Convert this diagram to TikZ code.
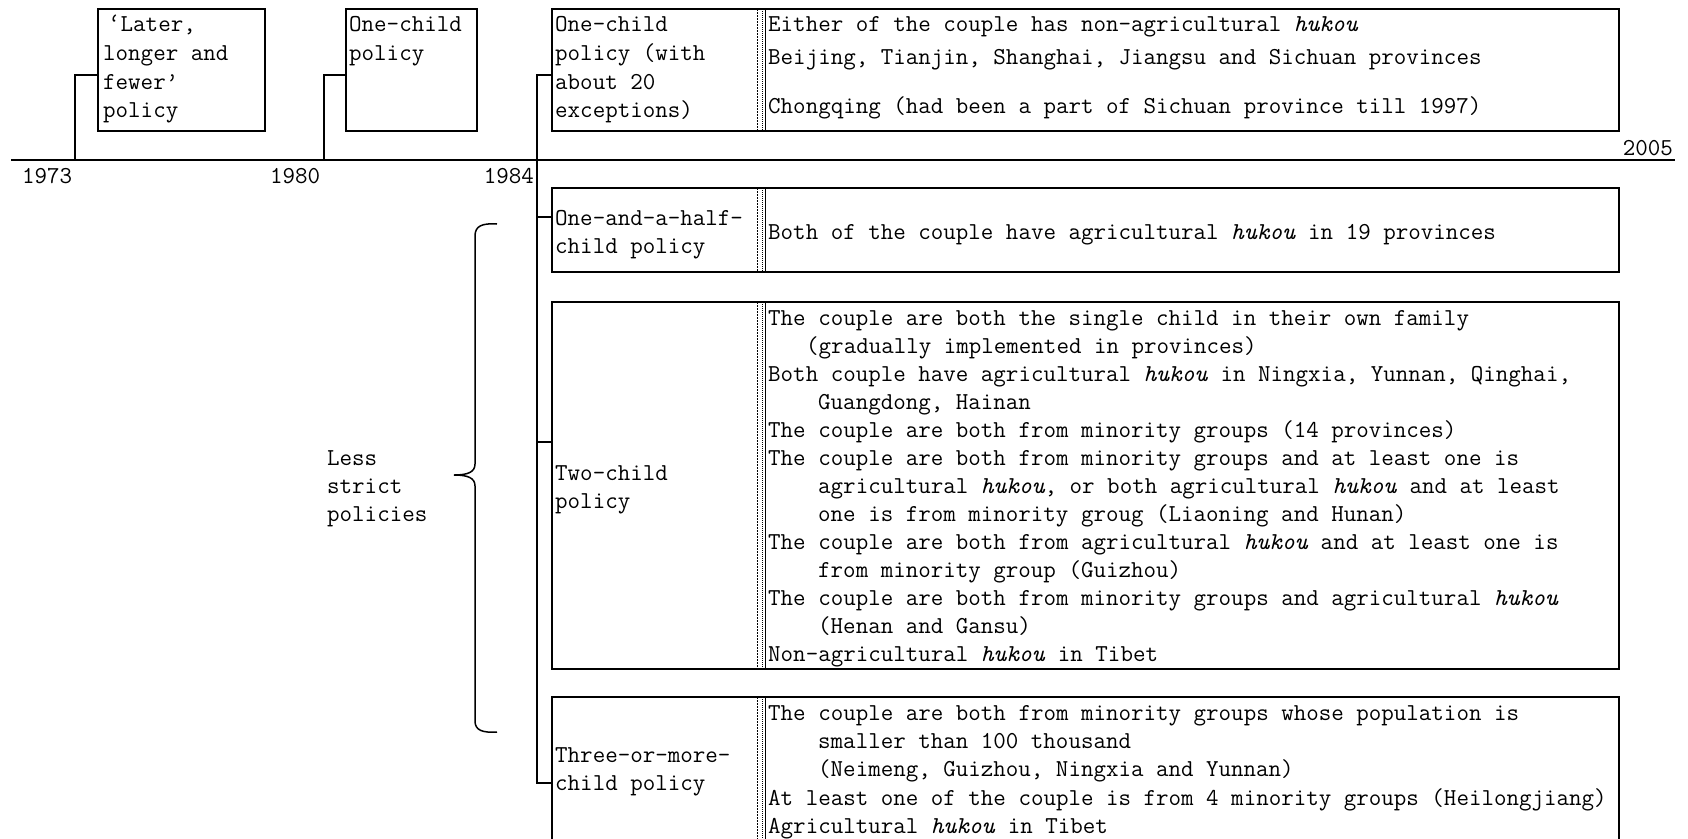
\documentclass[tikz,border=0pt]{standalone}
\usepackage{fontspec}
\begin{document}
\begin{tikzpicture}[x=1pt,y=-1pt,
  txt/.style={anchor=base west, inner sep=0pt, font=\ttfamily\fontsize{24.3}{28}\selectfont},
  txtr/.style={txt, anchor=base east},
  box/.style={draw, line width=2pt, anchor=north west, inner sep=0pt, outer sep=0pt},
  conn/.style={line width=2pt},
  divA/.style={line width=0.8pt, dash pattern=on 2pt off 1pt},
  divB/.style={line width=0.8pt, dash pattern=on 1pt off 1pt},
  divC/.style={line width=0.8pt}]
\useasboundingbox (0,0) rectangle (1688,838);
\clip (0,0) rectangle (1688,838);

% timeline
\coordinate (tlS) at (11,160);
\coordinate (tlE) at (1675,160);
\draw[conn] (tlS) -- (tlE);
\node[txt] (y1973) at (22,183) {1973};
\node[txt] (y1980) at (270,183) {1980};
\node[txtr] (y1984) at (534,183) {1984};
\node[txtr] (y2005) at (1673,155) {2005};

% boxes
\node[box, minimum width=167pt, minimum height=122pt] (b1) at (98,9) {};
\node[box, minimum width=131pt, minimum height=122pt] (b2) at (346,9) {};
\node[box, minimum width=1067pt, minimum height=122pt] (b3) at (552,9) {};
\node[box, minimum width=1067pt, minimum height=84pt] (b4) at (552,188) {};
\node[box, minimum width=1067pt, minimum height=367pt] (b5) at (552,302) {};
\node[box, minimum width=1067pt, minimum height=170pt] (b6) at (552,697) {};

% dividers
\coordinate (dvA) at (757,0);
\coordinate (dvB) at (762,0);
\coordinate (dvC) at (765,0);
\foreach \b in {b3,b4,b5,b6} {
  \draw[divA] (dvA |- \b.north) -- (dvA |- \b.south);
  \draw[divB] (dvB |- \b.north) -- (dvB |- \b.south);
  \draw[divC] (dvC |- \b.north) -- (dvC |- \b.south);
}

% connectors
\coordinate (j1) at (75,75);
\coordinate (j2) at (324,75);
\draw[conn] (j1 |- tlS) -- (j1) -- (j1 -| b1.west);
\draw[conn] (j2 |- tlS) -- (j2) -- (j2 -| b2.west);
\coordinate (mv) at (537,75);
\coordinate (c4) at (537,217);
\coordinate (c5) at (537,442);
\coordinate (c6) at (537,783);
\draw[conn] (mv -| b3.west) -- (mv) -- (c6) -- (c6 -| b6.west);
\draw[conn] (c4) -- (c4 -| b4.west);
\draw[conn] (c5) -- (c5 -| b5.west);

% brace
\draw[line width=1.5pt] (497,224) .. controls (482,223) and (475,226) .. (475,236)
  -- (475,464) .. controls (475,472) and (468,475) .. (454,475)
  .. controls (468,475) and (475,478) .. (475,486)
  -- (475,721) .. controls (475,730) and (482,733) .. (497,732);
\node[txt] (ls1) at (327,465) {Less};
\node[txt] (ls2) at (327,493) {strict};
\node[txt] (ls3) at (327,521) {policies};

% box 1 text
\node[txt] (t1a) at (108,31) {‘Later,};
\node[txt] (t1b) at (103,60) {longer and};
\node[txt] (t1c) at (103,89) {fewer’};
\node[txt] (t1d) at (103,117) {policy};
% box 2 text
\node[txt] (t2a) at (349,31) {One-child};
\node[txt] (t2b) at (349,60) {policy};
% box 3 text
\node[txt] (t3a) at (555,31) {One-child};
\node[txt] (t3b) at (555,60) {policy (with};
\node[txt] (t3c) at (555,89) {about 20};
\node[txt] (t3d) at (555,117) {exceptions)};
\node[txt] (r3a) at (768,31) {Either of the couple has non-agricultural \textit{hukou}};
\node[txt] (r3b) at (768,64) {Beijing, Tianjin, Shanghai, Jiangsu and Sichuan provinces};
\node[txt] (r3c) at (768,113) {Chongqing (had been a part of Sichuan province till 1997)};
% box 4 text
\node[txt] (t4a) at (555,225) {One-and-a-half-};
\node[txt] (t4b) at (555,253) {child policy};
\node[txt] (r4a) at (768,239) {Both of the couple have agricultural \textit{hukou} in 19 provinces};
% box 5 text
\node[txt] (t5a) at (555,480) {Two-child};
\node[txt] (t5b) at (555,508) {policy};
\node[txt] (r5a) at (768,325) {The couple are both the single child in their own family};
\node[txt] (r5b) at (806,353) {(gradually implemented in provinces)};
\node[txt] (r5c) at (768,381) {Both couple have agricultural \textit{hukou} in Ningxia, Yunnan, Qinghai,};
\node[txt] (r5d) at (818,409) {Guangdong, Hainan};
\node[txt] (r5e) at (768,437) {The couple are both from minority groups (14 provinces)};
\node[txt] (r5f) at (768,465) {The couple are both from minority groups and at least one is};
\node[txt] (r5g) at (818,493) {agricultural \textit{hukou}, or both agricultural \textit{hukou} and at least};
\node[txt] (r5h) at (818,521) {one is from minority groug (Liaoning and Hunan)};
\node[txt] (r5i) at (768,549) {The couple are both from agricultural \textit{hukou} and at least one is};
\node[txt] (r5j) at (818,577) {from minority group (Guizhou)};
\node[txt] (r5k) at (768,605) {The couple are both from minority groups and agricultural \textit{hukou}};
\node[txt] (r5l) at (818,633) {(Henan and Gansu)};
\node[txt] (r5m) at (768,661) {Non-agricultural \textit{hukou} in Tibet};
% box 6 text
\node[txt] (t6a) at (555,762) {Three-or-more-};
\node[txt] (t6b) at (555,790) {child policy};
\node[txt] (r6a) at (768,720) {The couple are both from minority groups whose population is};
\node[txt] (r6b) at (818,748) {smaller than 100 thousand};
\node[txt] (r6c) at (818,776) {(Neimeng, Guizhou, Ningxia and Yunnan)};
\node[txt] (r6d) at (768,805) {At least one of the couple is from 4 minority groups (Heilongjiang)};
\node[txt] (r6e) at (768,833) {Agricultural \textit{hukou} in Tibet};
\end{tikzpicture}
\end{document}
